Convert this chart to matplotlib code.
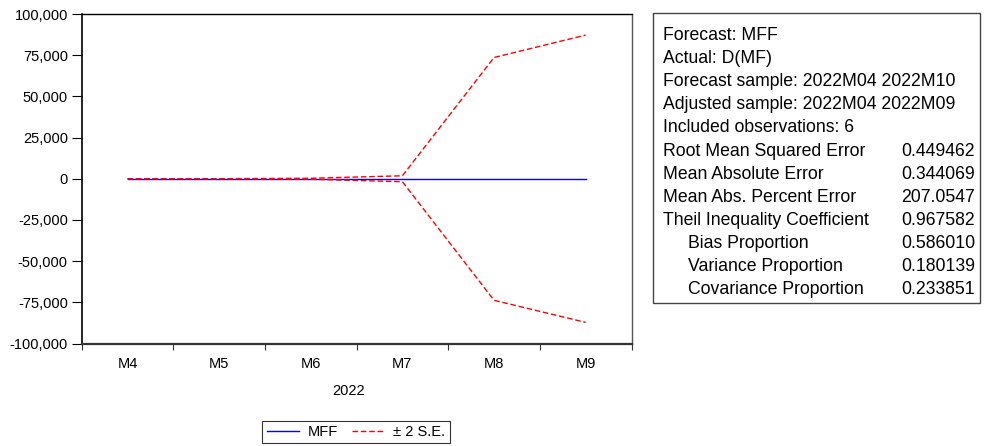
import matplotlib.pyplot as plt
from matplotlib.patches import Rectangle
from matplotlib.ticker import FuncFormatter

plt.rcParams['font.family'] = ['Liberation Sans', 'DejaVu Sans']

# Dados
months = ['M4', 'M5', 'M6', 'M7', 'M8', 'M9']
year_label = '2022'
mff = [0, 0, 0, 0, 0, 0]
upper = [1, 30, 300, 1800, 73600, 87200]
lower = [-1, -30, -300, -1800, -73800, -87200]

stats_labels = ['Forecast: MFF', 'Actual: D(MF)',
                'Forecast sample: 2022M04 2022M10',
                'Adjusted sample: 2022M04 2022M09',
                'Included observations: 6',
                'Root Mean Squared Error', 'Mean Absolute Error',
                'Mean Abs. Percent Error', 'Theil Inequality Coefficient',
                'Bias Proportion', 'Variance Proportion', 'Covariance Proportion']
stats_values = ['', '', '', '', '', '0.449462', '0.344069', '207.0547',
                '0.967582', '0.586010', '0.180139', '0.233851']
indented = [False] * 9 + [True] * 3

W, H = 996, 446
fig = plt.figure(figsize=(W / 100, H / 100), dpi=100)
ax = fig.add_axes([81.7 / W, 1 - 343.5 / H, (631.5 - 81.7) / W, (343.5 - 14) / H])

x = list(range(len(months)))
ax.plot(x, mff, color='blue', lw=1, label='MFF')
ax.plot(x, upper, color='red', lw=1, ls=(0, (4, 2)), label='± 2 S.E.')
ax.plot(x, lower, color='red', lw=1, ls=(0, (4, 2)))

ax.set_xlim(-0.5, len(months) - 0.5)
ax.set_ylim(-100000, 100000)
ax.set_yticks(range(-100000, 100001, 25000))
ax.yaxis.set_major_formatter(FuncFormatter(lambda v, p: f'{int(v):,}'))
ax.set_xticks(x)
ax.set_xticklabels(months)
ax.set_xticks([i - 0.5 for i in range(len(months) + 1)], minor=True)
ax.tick_params(axis='x', which='major', length=0, labelsize=10.5, pad=10)
ax.tick_params(axis='x', which='minor', length=4, width=0.8, color='#333333')
ax.tick_params(axis='y', length=7, width=0.8, labelsize=10.5, pad=3)
for s in ax.spines.values():
    s.set_linewidth(1.0)
ax.spines['bottom'].set_linewidth(1.6)
ax.spines['bottom'].set_color('#333333')
ax.spines['left'].set_linewidth(1.2)
ax.spines['right'].set_color('#555555')

ax.text(2.41, -0.145, year_label, transform=ax.get_xaxis_transform(),
        ha='center', va='center', fontsize=10.5)

fig.legend(loc='center', bbox_to_anchor=(356 / W, 1 - 432 / H), ncol=2,
           fontsize=10.5, frameon=True, fancybox=False, edgecolor='black',
           handlelength=2.2, handletextpad=0.6, columnspacing=1.0,
           borderpad=0.3).get_frame().set_linewidth(0.8)

# Caixa de estatísticas
fig.patches.append(Rectangle((653 / W, 1 - 303 / H), (980 - 653) / W, (303 - 13) / H,
                             transform=fig.transFigure, fill=False,
                             edgecolor='#444444', lw=1))
for i, (lab, val, ind) in enumerate(zip(stats_labels, stats_values, indented)):
    yb = 1 - (40 + i * 23.1) / H
    fig.text((688 if ind else 663) / W, yb, lab, fontsize=12.7, va='baseline')
    if val:
        fig.text(975 / W, yb, val, fontsize=12.7, va='baseline', ha='right')

fig.savefig('out.png', dpi=100)
